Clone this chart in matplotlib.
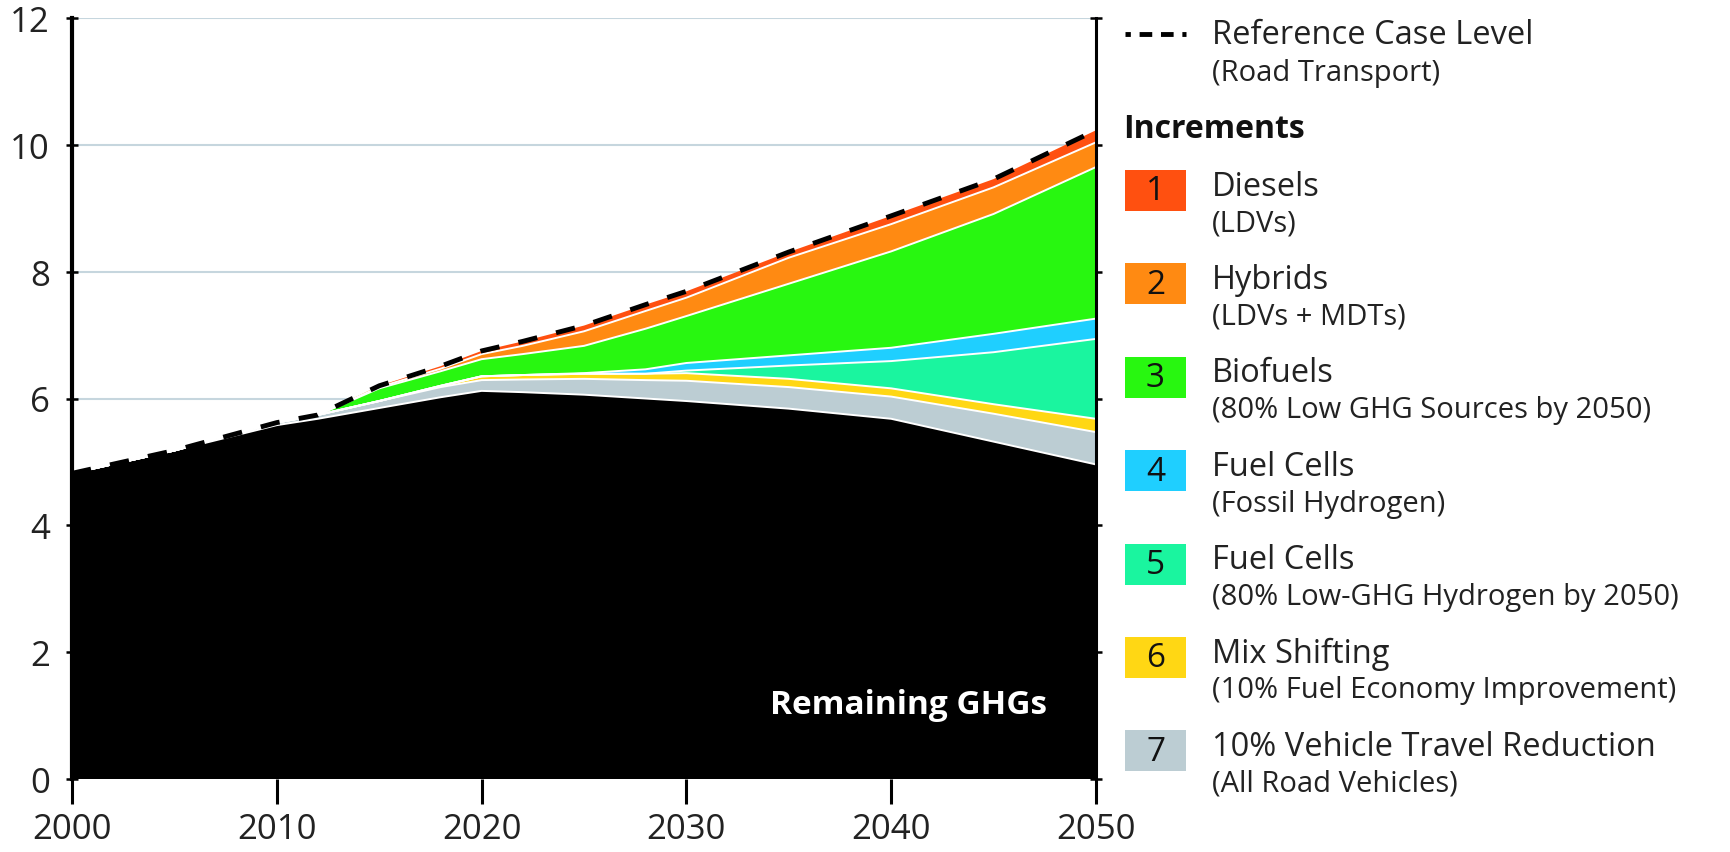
import numpy as np
import matplotlib.pyplot as plt
from matplotlib.lines import Line2D
from matplotlib.patches import Rectangle

plt.rcParams['font.family'] = ['Open Sans', 'DejaVu Sans']

# values (Gt CO2-eq), bottom layer first
years     = [2000, 2005, 2010, 2012, 2015, 2018, 2020, 2022, 2025, 2028, 2030, 2035, 2040, 2045, 2050]
remaining = [4.82, 5.18, 5.58, 5.68, 5.85, 6.02, 6.12, 6.10, 6.06, 6.00, 5.96, 5.84, 5.68, 5.32, 4.96]
travel    = [0, 0, 0.04, 0.06, 0.11, 0.16, 0.17, 0.20, 0.25, 0.29, 0.32, 0.34, 0.35, 0.44, 0.51]
mix_shift = [0, 0, 0, 0, 0, 0.02, 0.06, 0.07, 0.08, 0.10, 0.12, 0.13, 0.13, 0.15, 0.21]
fc_lowghg = [0, 0, 0, 0, 0, 0, 0, 0, 0, 0, 0.04, 0.21, 0.43, 0.82, 1.26]
fc_fossil = [0, 0, 0, 0, 0, 0, 0, 0, 0.01, 0.07, 0.12, 0.16, 0.21, 0.29, 0.32]
biofuels  = [0, 0, 0, 0, 0.20, 0.23, 0.27, 0.33, 0.43, 0.64, 0.74, 1.13, 1.52, 1.89, 2.39]
hybrids   = [0, 0, 0, 0, 0.02, 0.04, 0.08, 0.13, 0.23, 0.28, 0.29, 0.41, 0.43, 0.42, 0.39]
diesels   = [0, 0, 0, 0, 0.02, 0.04, 0.05, 0.07, 0.09, 0.10, 0.10, 0.09, 0.13, 0.13, 0.19]

layers = [remaining, travel, mix_shift, fc_lowghg, fc_fossil, biofuels, hybrids, diesels]
colors = ['#000000', '#bccdd3', '#ffd714', '#1af59f', '#1fcfff', '#28f710', '#ff8a12', '#ff5010']

# legend entries, top to bottom
legend_nums = ['1', '2', '3', '4', '5', '6', '7']
legend_names = ['Diesels', 'Hybrids', 'Biofuels', 'Fuel Cells', 'Fuel Cells', 'Mix Shifting',
                '10% Vehicle Travel Reduction']
legend_subs = ['(LDVs)', '(LDVs + MDTs)', '(80% Low GHG Sources by 2050)', '(Fossil Hydrogen)',
               '(80% Low-GHG Hydrogen by 2050)', '(10% Fuel Economy Improvement)',
               '(All Road Vehicles)']
legend_colors = colors[::-1][:7]

W, H = 1730, 853
fig = plt.figure(figsize=(W / 100, H / 100), dpi=100)
ax = fig.add_axes([72 / W, 1 - 780 / H, (1096 - 72) / W, (780 - 19) / H])

ax.stackplot(years, *layers, colors=colors, linewidth=0, zorder=2)
cum = np.cumsum(np.array(layers), axis=0)
for row in cum[:-1]:
    ax.plot(years, row, color='white', lw=1.4, zorder=3)
ax.plot(years, cum[-1], color='black', lw=3.5, dashes=(4, 4), zorder=4)

ax.set_xlim(2000, 2050)
ax.set_ylim(0, 12)
ax.set_xticks(range(2000, 2051, 10))
ax.set_yticks(range(0, 13, 2))
ax.grid(axis='y', color='#c6d6de', lw=1.5, zorder=1)
ax.set_axisbelow(True)

for s in ['top', 'bottom']:
    ax.spines[s].set_visible(False)
ax.spines['left'].set_linewidth(3)
ax.spines['right'].set_linewidth(2.2)
ax.spines['right'].set_zorder(5)
ax.spines['left'].set_zorder(5)

ax.tick_params(axis='x', direction='out', length=18, width=2.2, pad=6, labelsize=25, colors='black')
ax.tick_params(axis='y', left=True, right=True, direction='inout', length=8, width=1.8,
               pad=12, labelsize=25)
for lab in ax.get_yticklabels():
    lab.set_color('#222222')
for lab in ax.get_xticklabels():
    lab.set_color('#222222')

ax.text(2047.6, 1.17, 'Remaining GHGs', color='white', fontsize=24, fontweight='bold',
        ha='right', va='center', zorder=6)

# legend drawn in figure pixels
def fx(px):
    return px / W

def fy(py):
    return 1 - py / H

fig.add_artist(Line2D([fx(1125), fx(1186)], [fy(35), fy(35)], color='black', lw=3.5,
                      linestyle=(1.5, (2.6, 1.8))))
fig.text(fx(1212), fy(35), 'Reference Case Level', fontsize=23.5, va='center', color='#222222')
fig.text(fx(1212), fy(74), '(Road Transport)', fontsize=21, va='center', color='#222222')
fig.text(fx(1123), fy(130), 'Increments', fontsize=23, fontweight='bold', va='center', color='#111111')

for i in range(7):
    top = 171 + i * 93.4
    fig.add_artist(Rectangle((fx(1125), fy(top + 41)), fx(61), 41 / H,
                             facecolor=legend_colors[i], edgecolor='none'))
    fig.text(fx(1155.5), fy(top + 21), legend_nums[i], fontsize=24, ha='center', va='center',
             color='#111111')
    fig.text(fx(1212), fy(top + 16), legend_names[i], fontsize=23.5, va='center', color='#222222')
    fig.text(fx(1212), fy(top + 53), legend_subs[i], fontsize=21, va='center', color='#222222')

fig.savefig('out.png', dpi=100)
